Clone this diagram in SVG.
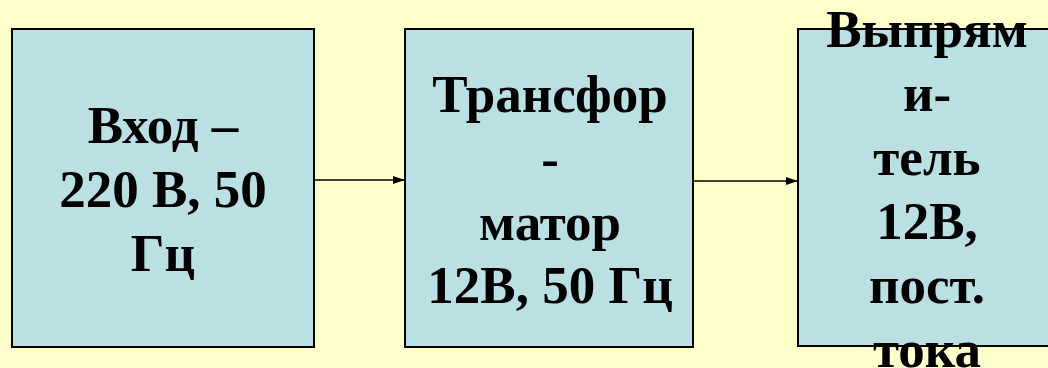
<svg xmlns="http://www.w3.org/2000/svg" width="1048" height="368" viewBox="0 0 1048 368">
  <style>
    .box { fill: #BAE0E3; stroke: #000000; stroke-width: 2; }
    .lbl { font-family: "Liberation Serif", "Times New Roman", serif; font-weight: bold; font-size: 53px; fill: #000000; text-anchor: middle; }
    .link { stroke: #000000; stroke-width: 1.5; fill: none; marker-end: url(#arrow); }
  </style>
  <defs>
    <marker id="arrow" markerWidth="12" markerHeight="8" refX="12" refY="4" orient="auto" markerUnits="userSpaceOnUse">
      <path d="M0,0 L12,4 L0,8 Z" fill="#000000"/>
    </marker>
  </defs>
  <rect width="1048" height="368" fill="#FFFFCC"/>

  <g id="connectors">
    <line class="link" x1="314" y1="180" x2="405" y2="180"/>
    <line class="link" x1="693" y1="181" x2="798" y2="181"/>
  </g>

  <g id="input">
    <rect class="box" x="12" y="29" width="302" height="318"/>
    <text class="lbl" x="163" y="143">Вход –</text>
    <text class="lbl" x="163" y="207">220 В, 50</text>
    <text class="lbl" x="163" y="271">Гц</text>
  </g>

  <g id="transformer">
    <rect class="box" x="405" y="29" width="288" height="318"/>
    <text class="lbl" x="550" y="112">Трансфор</text>
    <text class="lbl" x="550" y="176">-</text>
    <text class="lbl" x="550" y="240">матор</text>
    <text class="lbl" x="550" y="303">12В, 50 Гц</text>
  </g>

  <g id="rectifier">
    <rect class="box" x="798" y="29" width="270" height="317"/>
    <text class="lbl" x="927" y="47">Выпрям</text>
    <text class="lbl" x="927" y="111">и-</text>
    <text class="lbl" x="927" y="175">тель</text>
    <text class="lbl" x="927" y="239">12В,</text>
    <text class="lbl" x="927" y="303">пост.</text>
    <text class="lbl" x="927" y="367">тока</text>
  </g>
</svg>
